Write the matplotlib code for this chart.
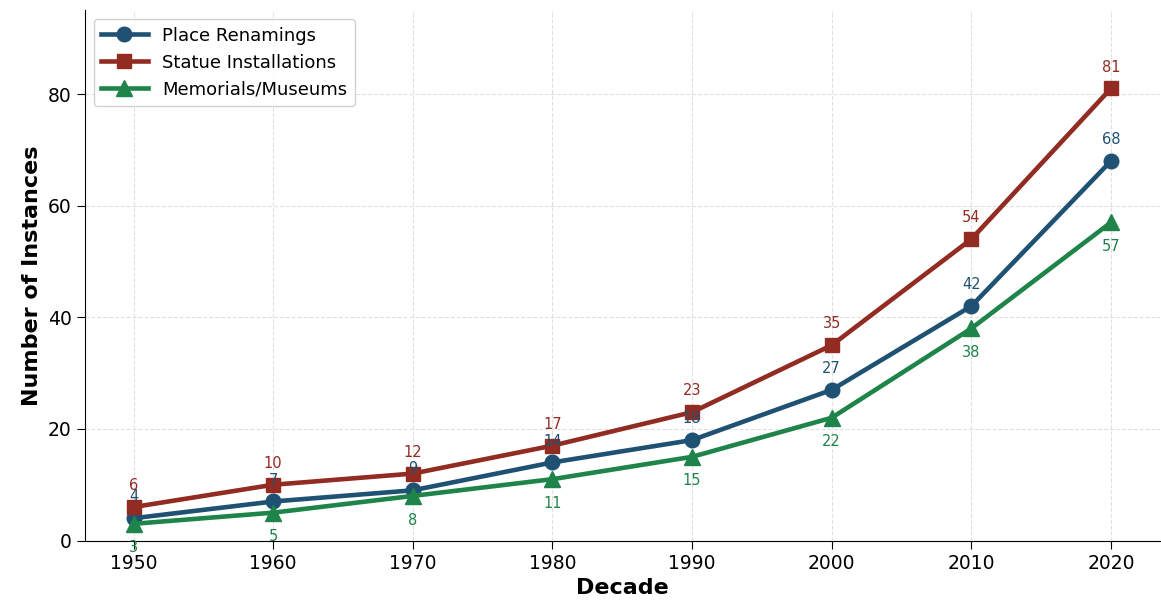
import matplotlib
matplotlib.use("Agg")
import matplotlib.pyplot as plt

decades = [1950, 1960, 1970, 1980, 1990, 2000, 2010, 2020]
place_renamings = [4, 7, 9, 14, 18, 27, 42, 68]
statue_installations = [6, 10, 12, 17, 23, 35, 54, 81]
memorials_museums = [3, 5, 8, 11, 15, 22, 38, 57]

c_place = "#1f5173"
c_statue = "#922b21"
c_mem = "#1e8449"

fig, ax = plt.subplots(figsize=(11.61, 6.06), dpi=100)
fig.subplots_adjust(left=0.073, right=0.999, top=0.983, bottom=0.108)

ax.plot(decades, place_renamings, "-o", color=c_place, lw=3.3, ms=10.5, label="Place Renamings", zorder=3)
ax.plot(decades, statue_installations, "-s", color=c_statue, lw=3.3, ms=10.5, label="Statue Installations", zorder=3)
ax.plot(decades, memorials_museums, "-^", color=c_mem, lw=3.3, ms=11.5, label="Memorials/Museums", zorder=3)

for x, y in zip(decades, place_renamings):
    ax.annotate(str(y), (x, y), xytext=(0, 10), textcoords="offset points",
                ha="center", va="bottom", fontsize=10.5, color=c_place)
for x, y in zip(decades, statue_installations):
    ax.annotate(str(y), (x, y), xytext=(0, 10), textcoords="offset points",
                ha="center", va="bottom", fontsize=10.5, color=c_statue)
for x, y in zip(decades, memorials_museums):
    ax.annotate(str(y), (x, y), xytext=(0, -12), textcoords="offset points",
                ha="center", va="top", fontsize=10.5, color=c_mem)

ax.set_ylim(0, 95)
ax.set_xticks(decades)
ax.tick_params(labelsize=13.5, length=6)
ax.set_xlabel("Decade", fontsize=16, fontweight="bold")
ax.set_ylabel("Number of Instances", fontsize=16, fontweight="bold")
ax.grid(True, linestyle="--", alpha=0.6, color="#cccccc")
ax.spines["top"].set_visible(False)
ax.spines["right"].set_visible(False)
ax.legend(loc="upper left", fontsize=13, framealpha=0.9, handlelength=2.6)

fig.savefig("out.png", dpi=100)
